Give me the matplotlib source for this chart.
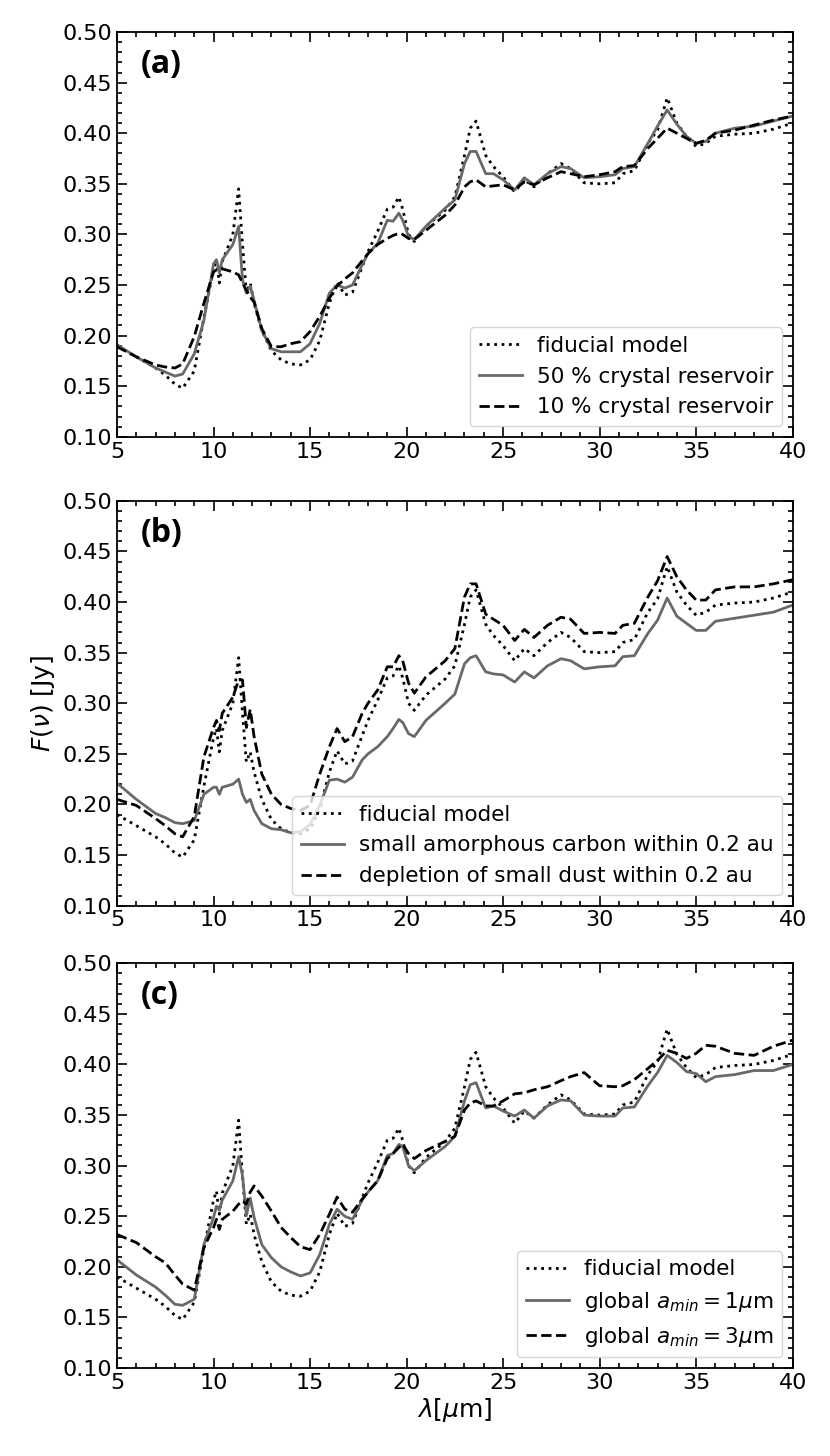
import numpy as np
import matplotlib
matplotlib.use('Agg')
import matplotlib.pyplot as plt
from matplotlib.ticker import MultipleLocator

# wavelength grid [micron]
wl = [5, 6, 7, 7.5, 8, 8.4, 9, 9.5, 10, 10.15,
      10.3, 10.45, 11, 11.3, 11.5, 11.7, 11.9, 12.1, 12.5, 13,
      13.5, 14, 14.5, 15, 15.5, 16, 16.4, 16.8, 17.2, 17.7,
      18, 18.5, 19, 19.3, 19.6, 19.8, 20.1, 20.4, 21, 22,
      22.5, 23, 23.3, 23.6, 24.1, 24.5, 25, 25.6, 26.1, 26.6,
      27.3, 28, 28.5, 29.2, 30, 30.8, 31.2, 31.8, 32.5, 33,
      33.5, 34, 34.5, 35, 35.5, 36, 37, 38, 39, 40]

fiducial = [0.190, 0.179, 0.168, 0.161, 0.152, 0.148, 0.165, 0.218, 0.266, 0.275,
            0.252, 0.273, 0.300, 0.345, 0.290, 0.242, 0.252, 0.232, 0.205, 0.185,
            0.176, 0.172, 0.171, 0.176, 0.195, 0.232, 0.253, 0.240, 0.243, 0.268,
            0.283, 0.303, 0.325, 0.327, 0.337, 0.325, 0.300, 0.293, 0.308, 0.324,
            0.337, 0.378, 0.405, 0.412, 0.378, 0.367, 0.357, 0.342, 0.354, 0.347,
            0.360, 0.370, 0.365, 0.351, 0.350, 0.351, 0.360, 0.363, 0.390, 0.403,
            0.435, 0.410, 0.397, 0.387, 0.390, 0.397, 0.399, 0.400, 0.404, 0.410]

crys50 = [0.191, 0.179, 0.168, 0.164, 0.160, 0.162, 0.182, 0.215, 0.271, 0.275,
          0.262, 0.275, 0.290, 0.308, 0.255, 0.242, 0.249, 0.235, 0.205, 0.187,
          0.184, 0.184, 0.184, 0.192, 0.212, 0.242, 0.250, 0.247, 0.250, 0.270,
          0.281, 0.291, 0.314, 0.313, 0.321, 0.314, 0.298, 0.295, 0.308, 0.326,
          0.334, 0.370, 0.382, 0.382, 0.360, 0.360, 0.354, 0.344, 0.356, 0.349,
          0.360, 0.367, 0.365, 0.356, 0.357, 0.359, 0.365, 0.367, 0.390, 0.407,
          0.423, 0.409, 0.397, 0.390, 0.392, 0.400, 0.405, 0.407, 0.412, 0.417]

crys10 = [0.189, 0.179, 0.171, 0.169, 0.168, 0.172, 0.199, 0.232, 0.263, 0.265,
          0.266, 0.266, 0.263, 0.260, 0.252, 0.245, 0.238, 0.233, 0.207, 0.189,
          0.189, 0.192, 0.194, 0.204, 0.219, 0.237, 0.249, 0.256, 0.262, 0.274,
          0.281, 0.290, 0.296, 0.299, 0.301, 0.300, 0.296, 0.295, 0.304, 0.319,
          0.329, 0.347, 0.352, 0.354, 0.347, 0.348, 0.349, 0.344, 0.352, 0.349,
          0.356, 0.362, 0.360, 0.357, 0.359, 0.362, 0.367, 0.368, 0.385, 0.395,
          0.405, 0.400, 0.395, 0.390, 0.393, 0.400, 0.403, 0.408, 0.413, 0.417]

carbon = [0.221, 0.205, 0.191, 0.187, 0.182, 0.181, 0.184, 0.210, 0.217, 0.217,
          0.210, 0.217, 0.220, 0.225, 0.210, 0.202, 0.205, 0.194, 0.181, 0.176,
          0.175, 0.172, 0.173, 0.180, 0.199, 0.224, 0.225, 0.222, 0.227, 0.244,
          0.250, 0.257, 0.267, 0.275, 0.284, 0.281, 0.270, 0.267, 0.283, 0.300,
          0.309, 0.339, 0.345, 0.347, 0.331, 0.329, 0.328, 0.321, 0.331, 0.325,
          0.337, 0.344, 0.342, 0.334, 0.336, 0.337, 0.346, 0.347, 0.369, 0.382,
          0.404, 0.386, 0.379, 0.372, 0.372, 0.381, 0.384, 0.387, 0.390, 0.397]

depletion = [0.205, 0.199, 0.186, 0.179, 0.171, 0.168, 0.188, 0.247, 0.276, 0.283,
             0.273, 0.290, 0.306, 0.323, 0.323, 0.276, 0.294, 0.267, 0.230, 0.210,
             0.200, 0.196, 0.194, 0.199, 0.230, 0.257, 0.275, 0.262, 0.267, 0.290,
             0.300, 0.313, 0.336, 0.336, 0.347, 0.342, 0.320, 0.310, 0.326, 0.342,
             0.354, 0.405, 0.418, 0.418, 0.388, 0.383, 0.377, 0.362, 0.373, 0.365,
             0.377, 0.385, 0.383, 0.369, 0.370, 0.369, 0.377, 0.379, 0.405, 0.421,
             0.445, 0.425, 0.412, 0.402, 0.402, 0.412, 0.415, 0.415, 0.418, 0.422]

amin1 = [0.207, 0.192, 0.180, 0.172, 0.163, 0.162, 0.168, 0.222, 0.249, 0.260,
         0.256, 0.266, 0.285, 0.309, 0.290, 0.251, 0.268, 0.249, 0.222, 0.209,
         0.200, 0.195, 0.191, 0.194, 0.212, 0.242, 0.257, 0.250, 0.247, 0.266,
         0.274, 0.285, 0.310, 0.312, 0.321, 0.319, 0.300, 0.295, 0.305, 0.319,
         0.329, 0.364, 0.380, 0.382, 0.357, 0.359, 0.354, 0.349, 0.355, 0.347,
         0.359, 0.365, 0.364, 0.350, 0.349, 0.349, 0.357, 0.358, 0.379, 0.392,
         0.409, 0.402, 0.393, 0.391, 0.383, 0.388, 0.390, 0.394, 0.394, 0.400]

amin3 = [0.232, 0.224, 0.210, 0.204, 0.192, 0.183, 0.177, 0.219, 0.239, 0.247,
         0.237, 0.247, 0.255, 0.262, 0.265, 0.262, 0.274, 0.280, 0.270, 0.255,
         0.239, 0.229, 0.220, 0.217, 0.232, 0.252, 0.269, 0.257, 0.254, 0.267,
         0.274, 0.285, 0.307, 0.312, 0.318, 0.321, 0.312, 0.307, 0.315, 0.324,
         0.329, 0.355, 0.362, 0.364, 0.359, 0.359, 0.364, 0.371, 0.372, 0.375,
         0.378, 0.384, 0.388, 0.392, 0.379, 0.378, 0.379, 0.385, 0.396, 0.404,
         0.414, 0.411, 0.406, 0.411, 0.419, 0.418, 0.411, 0.409, 0.418, 0.424]

panels = [
    ('(a)', crys50, crys10, '50 % crystal reservoir', '10 % crystal reservoir'),
    ('(b)', carbon, depletion, 'small amorphous carbon within 0.2 au',
     'depletion of small dust within 0.2 au'),
    ('(c)', amin1, amin3, r'global $a_{min} = 1\mu$m', r'global $a_{min} = 3\mu$m'),
]

plt.rcParams['font.size'] = 16
plt.rcParams['axes.linewidth'] = 1.3

fig = plt.figure(figsize=(8.3, 14.56), dpi=100)
bottoms = [0.700, 0.378, 0.0604]
height = 0.278

for (tag, y_gray, y_dash, lab_gray, lab_dash), b in zip(panels, bottoms):
    ax = fig.add_axes([0.141, b, 0.814, height])
    ax.plot(wl, fiducial, ':', color='black', lw=2, label='fiducial model')
    ax.plot(wl, y_gray, '-', color='dimgray', lw=2, label=lab_gray)
    ax.plot(wl, y_dash, '--', color='black', lw=2, label=lab_dash)
    ax.set_xlim(5, 40)
    ax.set_ylim(0.10, 0.50)
    ax.xaxis.set_major_locator(MultipleLocator(5))
    ax.xaxis.set_minor_locator(MultipleLocator(1))
    ax.yaxis.set_major_locator(MultipleLocator(0.05))
    ax.yaxis.set_minor_locator(MultipleLocator(0.01))
    ax.yaxis.set_major_formatter(matplotlib.ticker.FormatStrFormatter('%.2f'))
    ax.tick_params(which='both', direction='in', top=True, right=True, width=1.2)
    ax.tick_params(which='major', length=7, labelsize=16)
    ax.tick_params(which='minor', length=3.5)
    ax.text(0.035, 0.92, tag, transform=ax.transAxes, fontsize=23,
            fontweight='bold', family=['Open Sans', 'DejaVu Sans'], va='center')
    ax.legend(loc='lower right', fontsize=15.5, handlelength=2.0, handletextpad=0.7)
    if tag == '(b)':
        ax.set_ylabel(r'$F(\nu)$ [Jy]', fontsize=18, labelpad=4)
    if tag == '(c)':
        ax.set_xlabel(r'$\lambda[\mu$m]', fontsize=18, labelpad=2)

fig.savefig('out.png', dpi=100)
print('done')
